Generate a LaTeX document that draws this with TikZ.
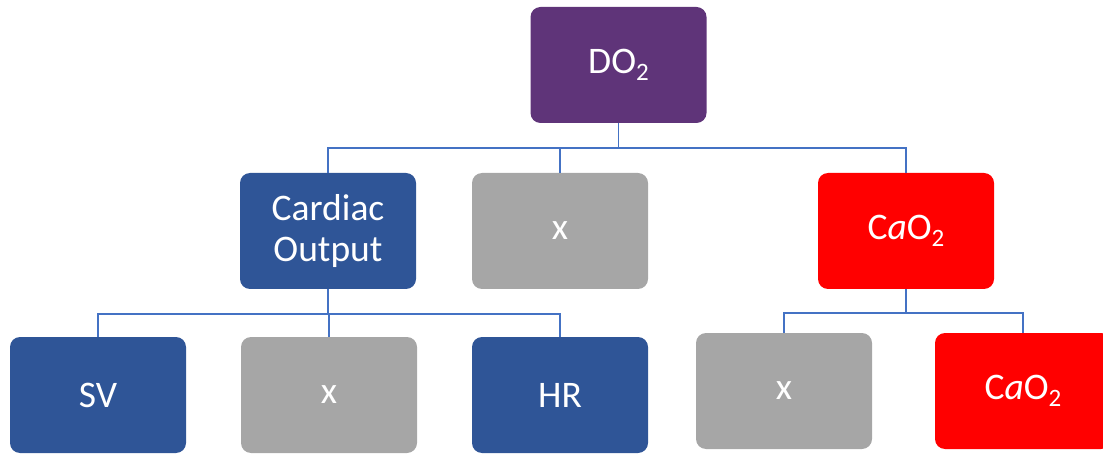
\documentclass[tikz,border=0pt]{standalone}
\usepackage{fontspec}
\setmainfont{Carlito}
\definecolor{cpurple}{HTML}{5F3479}
\definecolor{cblue}{HTML}{2F5597}
\definecolor{cgray}{HTML}{A6A6A6}
\definecolor{cred}{HTML}{FF0000}
\definecolor{cline}{HTML}{4472C4}
\newcommand{\subtwo}{\raisebox{-7pt}{\fontsize{25}{25}\selectfont 2}}
\tikzset{
  box/.style={rounded corners=10pt, minimum width=176pt, minimum height=116pt,
    text=white, align=center, inner sep=0pt,
    font=\fontsize{37.5}{41}\selectfont},
  purplebox/.style={box, fill=cpurple},
  bluebox/.style={box, fill=cblue},
  graybox/.style={box, fill=cgray},
  redbox/.style={box, fill=cred},
  conn/.style={draw=cline, line width=1.4pt}
}
\begin{document}
\begin{tikzpicture}[x=1pt,y=-1pt]
\useasboundingbox (0,0) rectangle (1103,454);
\clip (0,0) rectangle (1103,454);
\node[purplebox] (DO) at (618.5,65) {DO\subtwo};
\node[bluebox] (CO) at (328,231) {Cardiac\\Output};
\node[graybox] (X1) at (560,231) {x};
\node[redbox] (CA) at (906,231) {C\textit{a}O\subtwo};
\node[bluebox] (SV) at (98,395) {SV};
\node[graybox] (X2) at (329,395) {x};
\node[bluebox] (HR) at (560,395) {HR};
\node[graybox] (X3) at (784,391) {x};
\node[redbox] (CB) at (1023,391) {C\textit{a}O\subtwo};
\draw[conn] (DO.south) -- ++(0,25) -| (CO.north);
\draw[conn] (DO.south) -- ++(0,25) -| (X1.north);
\draw[conn] (DO.south) -- ++(0,25) -| (CA.north);
\draw[conn] (CO.south) -- ++(0,25) -| (SV.north);
\draw[conn] (CO.south) -- ++(0,25) -| (X2.north);
\draw[conn] (CO.south) -- ++(0,25) -| (HR.north);
\draw[conn] (CA.south) -- ++(0,24) -| (X3.north);
\draw[conn] (CA.south) -- ++(0,24) -| (CB.north);
\end{tikzpicture}
\end{document}
